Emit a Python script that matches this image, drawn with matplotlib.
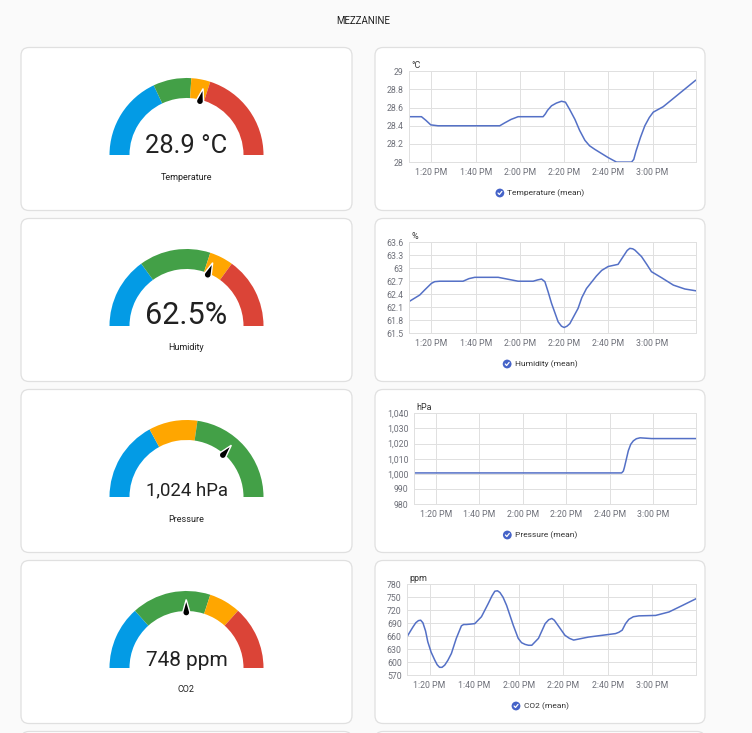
import numpy as np
import matplotlib.pyplot as plt
from matplotlib.patches import FancyBboxPatch, Wedge, Polygon, Circle

W, H = 752, 733
plt.rcParams['font.family'] = ['Roboto', 'DejaVu Sans']

BLUE = '#039be5'
GREEN = '#43a047'
YELLOW = '#ffa600'
RED = '#db4437'
LINE = '#5470c6'

# ---- gauge data ----
gauge_names = ["Temperature", "Humidity", "Pressure", "CO2"]
gauge_values = [28.9, 62.5, 1024, 748]
gauge_texts = ["28.9 °C", "62.5%", "1,024 hPa", "748 ppm"]
gauge_min = [0, 0, 960, 0]
gauge_max = [50, 100, 1048, 1500]
gauge_bounds = [[18, 26, 30], [30, 60, 70], [990, 1008], [400, 900, 1100]]
gauge_colors = [[BLUE, GREEN, YELLOW, RED],
                [BLUE, GREEN, YELLOW, RED],
                [BLUE, YELLOW, GREEN],
                [BLUE, GREEN, YELLOW, RED]]

# ---- history data (minutes after 1:00 PM) ----
temp_t = [9.9, 15.5, 17.5, 19.7, 23, 50.9, 53, 56, 59.2, 70.5, 71.5, 72.5, 74.3, 76.5,
          78.8, 80.6, 82.5, 84.9, 87, 89.4, 91.5, 93.9, 99.9, 103.7, 110.5, 111.5, 112.5,
          114.5, 116.5, 118.5, 120.3, 124.8, 139.4]
temp_v = [28.50, 28.50, 28.46, 28.41, 28.40, 28.40, 28.43, 28.47, 28.50, 28.50, 28.53, 28.57,
          28.62, 28.65, 28.67, 28.66, 28.58, 28.47, 28.35, 28.24, 28.18, 28.14, 28.05, 28.0,
          28.0, 28.03, 28.12, 28.27, 28.40, 28.49, 28.55, 28.61, 28.90]

hum_t = [9.9, 14.7, 17, 20, 21.5, 23.8, 34.3, 37, 39.6, 50.2, 59.2, 66, 68, 69.8, 71.3,
         72.8, 74.3, 77.3, 78.8, 80, 81.3, 82.6, 86.3, 88, 90.1, 94.6, 97, 99.9, 104.4,
         106.7, 108.5, 109.7, 111, 112, 115, 117.5, 119.5, 124.1, 129.4, 134.6, 139.4]
hum_v = [62.23, 62.38, 62.50, 62.65, 62.69, 62.70, 62.70, 62.76, 62.79, 62.79, 62.70, 62.70,
         62.73, 62.75, 62.69, 62.45, 62.19, 61.76, 61.66, 61.63, 61.66, 61.72, 62.07, 62.32,
         62.53, 62.82, 62.95, 63.04, 63.09, 63.27, 63.41, 63.46, 63.45, 63.42, 63.27, 63.08,
         62.92, 62.78, 62.61, 62.52, 62.48]

pres_t = [10.2, 105.4, 106.2, 106.7, 107.6, 108.5, 109.6, 110.8, 112.2, 113.9, 119.2, 139.4]
pres_v = [1000.6, 1000.6, 1001.8, 1004.3, 1009.8, 1015.3, 1019.5, 1021.8, 1023.2, 1023.8,
          1023.3, 1023.3]

co2_t = [9.8, 11.2, 12.5, 13.8, 15, 16, 17, 18.2, 19.2, 20.7, 22.3, 23.4, 24.5, 25.6, 26.8,
         28.2, 29.8, 32, 34.3, 35.3, 36.5, 38.5, 40.3, 43.3, 46.3, 48, 49.3, 50.5, 51.6, 53,
         54.6, 57.6, 59.8, 61.3, 62.9, 64.4, 65.9, 68.9, 71.9, 73.5, 74.9, 76, 77.1, 80.8,
         82.8, 84.7, 91.4, 103.5, 105, 106.5, 108, 109.5, 111.5, 114, 121.5, 127.5, 133.5, 139.8]
co2_v = [658, 670, 681, 691, 696, 697, 691, 672, 647, 623, 605, 594, 588, 588, 593,
         604, 620, 655, 684, 687, 687, 688, 689, 705, 735, 753, 764, 765, 761, 750,
         731, 685, 655, 645, 641, 639, 639, 655, 689, 698, 701, 697, 689, 662,
         655, 651, 658, 666, 669, 674, 689, 699, 705, 707, 708, 716, 731, 747]

time_ticks = [20, 40, 60, 80, 100, 120]
time_labels = ["1:20 PM", "1:40 PM", "2:00 PM", "2:20 PM", "2:40 PM", "3:00 PM"]

charts = [
    dict(t=temp_t, v=temp_v, unit="°C", label="Temperature (mean)",
         yticks=[28, 28.2, 28.4, 28.6, 28.8, 29],
         ylabels=["28", "28.2", "28.4", "28.6", "28.8", "29"], left=409.3),
    dict(t=hum_t, v=hum_v, unit="%", label="Humidity (mean)",
         yticks=[61.5, 61.8, 62.1, 62.4, 62.7, 63, 63.3, 63.6],
         ylabels=["61.5", "61.8", "62.1", "62.4", "62.7", "63", "63.3", "63.6"], left=409.3),
    dict(t=pres_t, v=pres_v, unit="hPa", label="Pressure (mean)",
         yticks=[980, 990, 1000, 1010, 1020, 1030, 1040],
         ylabels=["980", "990", "1,000", "1,010", "1,020", "1,030", "1,040"], left=414.3),
    dict(t=co2_t, v=co2_v, unit="ppm", label="CO2 (mean)",
         yticks=[570, 600, 630, 660, 690, 720, 750, 780],
         ylabels=["570", "600", "630", "660", "690", "720", "750", "780"], left=407.3),
]

fig = plt.figure(figsize=(W / 100, H / 100), dpi=100, facecolor='#fafafa')
ax0 = fig.add_axes([0, 0, 1, 1])
ax0.set_xlim(0, W)
ax0.set_ylim(0, H)
ax0.axis('off')
renderer = fig.canvas.get_renderer()


def Y(py):
    return H - py


def card(x0, y0, x1, y1):
    p = FancyBboxPatch((x0 + 4, Y(y1) + 4), x1 - x0 - 8, y1 - y0 - 8,
                       boxstyle="round,pad=4,rounding_size=8",
                       fc='white', ec='#e0e0e0', lw=0.9, zorder=1)
    ax0.add_patch(p)


ax0.text(363, Y(21), "MEZZANINE", ha='center', va='center', fontsize=7, color='#212121')

row_top = [47.5 + 171 * i for i in range(5)]
for i, T in enumerate(row_top):
    card(21, T, 352, T + 163)
    card(375, T, 705, T + 163)


def needle(cx, cy, ang):
    r0, rb, rt = 55.5, 3.5, 68.5
    d = rt - r0
    a = np.arccos(rb / d)
    phi = np.linspace(a, 2 * np.pi - a, 30)
    px = np.append(r0 + rb * np.cos(phi), rt)
    py = np.append(rb * np.sin(phi), 0)
    xs = cx + px * np.cos(ang) - py * np.sin(ang)
    ys = cy + px * np.sin(ang) + py * np.cos(ang)
    ax0.add_patch(Polygon(np.column_stack([xs, ys]), closed=True, fc='black',
                          ec='white', lw=1.0, zorder=4))


for i in range(4):
    T = row_top[i]
    cx, cy = 186.5, Y(T + 107.5)
    lo, hi = gauge_min[i], gauge_max[i]
    edges = [lo] + gauge_bounds[i] + [hi]
    for k, col in enumerate(gauge_colors[i]):
        fa = (edges[k] - lo) / (hi - lo)
        fb = (edges[k + 1] - lo) / (hi - lo)
        ax0.add_patch(Wedge((cx, cy), 77, 180 - 180 * fb, 180 - 180 * fa,
                            width=20, fc=col, ec='none', zorder=2))
    f = (gauge_values[i] - lo) / (hi - lo)
    needle(cx, cy, np.radians(180 - 180 * f))
    # value text is fitted to a fixed width, like the dashboard does
    vt = ax0.text(cx, Y(T + 105.5), gauge_texts[i], ha='center', va='baseline',
                  fontsize=18, color='#212121', zorder=5)
    w = vt.get_window_extent(renderer).width
    vt.set_fontsize(18 * 82 / w)
    ax0.text(cx, Y(T + 129.5), gauge_names[i], ha='center', va='center',
             fontsize=6.5, color='#212121', zorder=5)

for i, c in enumerate(charts):
    T = row_top[i]
    top, bot, left, right = T + 23.8, T + 114.6, c['left'], 695.7
    ax = fig.add_axes([left / W, 1 - bot / H, (right - left) / W, (bot - top) / H])
    ax.set_facecolor('white')
    ax.plot(c['t'], c['v'], color=LINE, lw=1.1, solid_joinstyle='round')
    ax.set_xlim(10, 139.5)
    ax.set_ylim(c['yticks'][0], c['yticks'][-1])
    ax.set_xticks(time_ticks)
    ax.set_xticklabels(time_labels)
    ax.set_yticks(c['yticks'])
    ax.set_yticklabels(c['ylabels'])
    ax.tick_params(length=0, labelsize=6.3, labelcolor='#6e7079', pad=4)
    ax.grid(True, color='#e0e0e0', lw=0.7)
    ax.set_axisbelow(True)
    for s in ax.spines.values():
        s.set_color('#e0e0e0')
        s.set_linewidth(0.7)
    ax0.text(left + 2, Y(top - 1), c['unit'], ha='left', va='bottom',
             fontsize=6.5, color='#333333')

    # legend
    ly = Y(T + 145.5)
    t = ax0.text(0, ly, c['label'], ha='left', va='center', fontsize=6,
                 color='#333333', zorder=5)
    tw = t.get_window_extent(renderer).width
    total = 9 + 3 + tw
    x0 = 540 - total / 2
    t.set_x(x0 + 12)
    ax0.add_patch(Circle((x0 + 4.5, ly), 4.4, fc='#4563c8', ec='none', zorder=5))
    ax0.plot([x0 + 2.6, x0 + 4.0, x0 + 6.5], [ly, ly - 1.5, ly + 1.6],
             color='white', lw=0.9, zorder=6, solid_capstyle='round')

fig.savefig('out.png', dpi=100, facecolor=fig.get_facecolor())
